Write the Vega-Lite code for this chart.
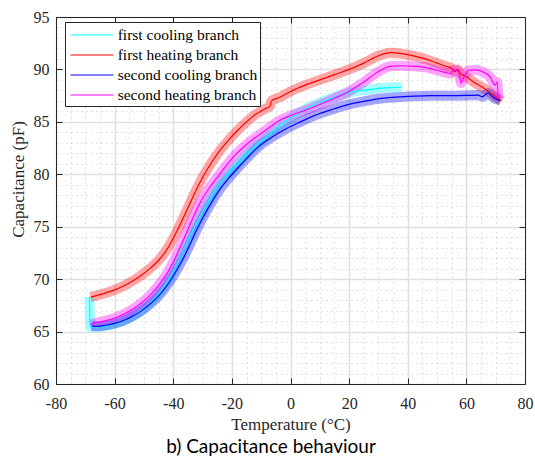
{
 "$schema": "https://vega.github.io/schema/vega-lite/v6.json",
 "width": 469, "height": 367,
 "autosize": {"type": "none"},
 "padding": {"left": 56, "top": 17, "right": 10, "bottom": 78},
 "title": {"text": "b) Capacitance behaviour", "orient": "bottom", "anchor": "middle", "frame": "bounds", "font": "Lato", "fontSize": 19, "fontWeight": "normal", "color": "#000000", "offset": 6},
 "datasets": {
  "d": [
   {"b":"first cooling branch","i":1,"T":37.9,"C":88.3},{"b":"first cooling branch","i":2,"T":34,"C":88.27},{"b":"first cooling branch","i":3,"T":30,"C":88.2},{"b":"first cooling branch","i":4,"T":26,"C":88.05},{"b":"first cooling branch","i":5,"T":22,"C":87.9},{"b":"first cooling branch","i":6,"T":18,"C":87.6},{"b":"first cooling branch","i":7,"T":14,"C":87.25},{"b":"first cooling branch","i":8,"T":10,"C":86.85},{"b":"first cooling branch","i":9,"T":6,"C":86.35},{"b":"first cooling branch","i":10,"T":2,"C":85.7},{"b":"first cooling branch","i":11,"T":-2,"C":85.0},{"b":"first cooling branch","i":12,"T":-5,"C":84.35},{"b":"first cooling branch","i":13,"T":-8,"C":83.65},{"b":"first cooling branch","i":14,"T":-12,"C":82.7},{"b":"first cooling branch","i":15,"T":-16,"C":81.6},{"b":"first cooling branch","i":16,"T":-19,"C":80.7},{"b":"first cooling branch","i":17,"T":-22,"C":79.85},{"b":"first cooling branch","i":18,"T":-25,"C":78.8},{"b":"first cooling branch","i":19,"T":-28,"C":77.4},{"b":"first cooling branch","i":20,"T":-31,"C":75.9},{"b":"first cooling branch","i":21,"T":-33.5,"C":74.6},{"b":"first cooling branch","i":22,"T":-36,"C":73.1},{"b":"first cooling branch","i":23,"T":-38,"C":71.9},{"b":"first cooling branch","i":24,"T":-40,"C":70.8},{"b":"first cooling branch","i":25,"T":-42,"C":69.8},{"b":"first cooling branch","i":26,"T":-45,"C":68.6},{"b":"first cooling branch","i":27,"T":-48,"C":67.7},{"b":"first cooling branch","i":28,"T":-51,"C":67.0},{"b":"first cooling branch","i":29,"T":-54,"C":66.45},{"b":"first cooling branch","i":30,"T":-57,"C":66.05},{"b":"first cooling branch","i":31,"T":-60,"C":65.75},{"b":"first cooling branch","i":32,"T":-63,"C":65.55},{"b":"first cooling branch","i":33,"T":-66,"C":65.45},{"b":"first cooling branch","i":34,"T":-68.3,"C":65.45},{"b":"first cooling branch","i":35,"T":-68.6,"C":68.3},
   {"b":"first heating branch","i":1,"T":-68.2,"C":68.3},{"b":"first heating branch","i":2,"T":-66,"C":68.45},{"b":"first heating branch","i":3,"T":-64,"C":68.6},{"b":"first heating branch","i":4,"T":-62,"C":68.78},{"b":"first heating branch","i":5,"T":-60,"C":68.98},{"b":"first heating branch","i":6,"T":-57,"C":69.35},{"b":"first heating branch","i":7,"T":-54,"C":69.8},{"b":"first heating branch","i":8,"T":-51,"C":70.35},{"b":"first heating branch","i":9,"T":-48,"C":71.0},{"b":"first heating branch","i":10,"T":-45,"C":71.8},{"b":"first heating branch","i":11,"T":-42,"C":72.9},{"b":"first heating branch","i":12,"T":-40,"C":73.9},{"b":"first heating branch","i":13,"T":-38,"C":75.0},{"b":"first heating branch","i":14,"T":-35,"C":76.8},{"b":"first heating branch","i":15,"T":-32,"C":78.6},{"b":"first heating branch","i":16,"T":-30,"C":79.7},{"b":"first heating branch","i":17,"T":-27,"C":81.1},{"b":"first heating branch","i":18,"T":-24,"C":82.3},{"b":"first heating branch","i":19,"T":-21,"C":83.3},{"b":"first heating branch","i":20,"T":-18,"C":84.2},{"b":"first heating branch","i":21,"T":-15,"C":85.0},{"b":"first heating branch","i":22,"T":-12,"C":85.7},{"b":"first heating branch","i":23,"T":-9,"C":86.2},{"b":"first heating branch","i":24,"T":-7,"C":86.5},{"b":"first heating branch","i":25,"T":-6.5,"C":87.0},{"b":"first heating branch","i":26,"T":-4,"C":87.3},{"b":"first heating branch","i":27,"T":0,"C":87.9},{"b":"first heating branch","i":28,"T":5,"C":88.5},{"b":"first heating branch","i":29,"T":10,"C":89.0},{"b":"first heating branch","i":30,"T":15,"C":89.5},{"b":"first heating branch","i":31,"T":20,"C":90.0},{"b":"first heating branch","i":32,"T":25,"C":90.6},{"b":"first heating branch","i":33,"T":30,"C":91.3},{"b":"first heating branch","i":34,"T":34,"C":91.6},{"b":"first heating branch","i":35,"T":38,"C":91.5},{"b":"first heating branch","i":36,"T":42,"C":91.3},{"b":"first heating branch","i":37,"T":46,"C":91.0},{"b":"first heating branch","i":38,"T":50,"C":90.6},{"b":"first heating branch","i":39,"T":53,"C":90.3},{"b":"first heating branch","i":40,"T":55,"C":90.1},{"b":"first heating branch","i":41,"T":56,"C":89.8},{"b":"first heating branch","i":42,"T":57,"C":90.0},{"b":"first heating branch","i":43,"T":58,"C":89.6},{"b":"first heating branch","i":44,"T":60,"C":89.3},{"b":"first heating branch","i":45,"T":63,"C":88.7},{"b":"first heating branch","i":46,"T":66,"C":88.2},{"b":"first heating branch","i":47,"T":68,"C":87.8},{"b":"first heating branch","i":48,"T":70,"C":87.4},{"b":"first heating branch","i":49,"T":72,"C":87.0},
   {"b":"second cooling branch","i":1,"T":-67.8,"C":65.55},{"b":"second cooling branch","i":2,"T":-66,"C":65.5},{"b":"second cooling branch","i":3,"T":-63,"C":65.6},{"b":"second cooling branch","i":4,"T":-60,"C":65.78},{"b":"second cooling branch","i":5,"T":-57,"C":66.05},{"b":"second cooling branch","i":6,"T":-54,"C":66.45},{"b":"second cooling branch","i":7,"T":-51,"C":66.95},{"b":"second cooling branch","i":8,"T":-48,"C":67.6},{"b":"second cooling branch","i":9,"T":-45,"C":68.4},{"b":"second cooling branch","i":10,"T":-42,"C":69.45},{"b":"second cooling branch","i":11,"T":-40,"C":70.3},{"b":"second cooling branch","i":12,"T":-38,"C":71.25},{"b":"second cooling branch","i":13,"T":-36,"C":72.3},{"b":"second cooling branch","i":14,"T":-34,"C":73.5},{"b":"second cooling branch","i":15,"T":-32,"C":74.7},{"b":"second cooling branch","i":16,"T":-30,"C":75.8},{"b":"second cooling branch","i":17,"T":-27,"C":77.3},{"b":"second cooling branch","i":18,"T":-24,"C":78.6},{"b":"second cooling branch","i":19,"T":-21,"C":79.65},{"b":"second cooling branch","i":20,"T":-18,"C":80.6},{"b":"second cooling branch","i":21,"T":-15,"C":81.5},{"b":"second cooling branch","i":22,"T":-12,"C":82.35},{"b":"second cooling branch","i":23,"T":-9,"C":83.05},{"b":"second cooling branch","i":24,"T":-6,"C":83.6},{"b":"second cooling branch","i":25,"T":-3,"C":84.1},{"b":"second cooling branch","i":26,"T":0,"C":84.55},{"b":"second cooling branch","i":27,"T":3,"C":84.95},{"b":"second cooling branch","i":28,"T":6.5,"C":85.4},{"b":"second cooling branch","i":29,"T":10,"C":85.8},{"b":"second cooling branch","i":30,"T":15,"C":86.25},{"b":"second cooling branch","i":31,"T":19,"C":86.6},{"b":"second cooling branch","i":32,"T":25,"C":86.95},{"b":"second cooling branch","i":33,"T":30,"C":87.2},{"b":"second cooling branch","i":34,"T":36,"C":87.35},{"b":"second cooling branch","i":35,"T":42,"C":87.45},{"b":"second cooling branch","i":36,"T":48,"C":87.5},{"b":"second cooling branch","i":37,"T":54,"C":87.5},{"b":"second cooling branch","i":38,"T":60,"C":87.52},{"b":"second cooling branch","i":39,"T":64,"C":87.55},{"b":"second cooling branch","i":40,"T":65.5,"C":87.4},{"b":"second cooling branch","i":41,"T":66.5,"C":87.6},{"b":"second cooling branch","i":42,"T":67.5,"C":87.75},{"b":"second cooling branch","i":43,"T":68.5,"C":87.5},{"b":"second cooling branch","i":44,"T":69.8,"C":87.2},{"b":"second cooling branch","i":45,"T":71.5,"C":87.05},
   {"b":"second heating branch","i":1,"T":-68.4,"C":65.7},{"b":"second heating branch","i":2,"T":-66,"C":65.85},{"b":"second heating branch","i":3,"T":-63,"C":66.05},{"b":"second heating branch","i":4,"T":-60,"C":66.3},{"b":"second heating branch","i":5,"T":-57,"C":66.65},{"b":"second heating branch","i":6,"T":-54,"C":67.1},{"b":"second heating branch","i":7,"T":-51,"C":67.7},{"b":"second heating branch","i":8,"T":-48,"C":68.45},{"b":"second heating branch","i":9,"T":-45,"C":69.4},{"b":"second heating branch","i":10,"T":-42,"C":70.6},{"b":"second heating branch","i":11,"T":-40,"C":71.6},{"b":"second heating branch","i":12,"T":-38,"C":72.8},{"b":"second heating branch","i":13,"T":-36,"C":74.1},{"b":"second heating branch","i":14,"T":-34,"C":75.4},{"b":"second heating branch","i":15,"T":-31,"C":77.2},{"b":"second heating branch","i":16,"T":-28,"C":78.6},{"b":"second heating branch","i":17,"T":-25,"C":79.7},{"b":"second heating branch","i":18,"T":-22,"C":80.8},{"b":"second heating branch","i":19,"T":-19,"C":81.8},{"b":"second heating branch","i":20,"T":-16,"C":82.6},{"b":"second heating branch","i":21,"T":-13,"C":83.3},{"b":"second heating branch","i":22,"T":-10,"C":83.9},{"b":"second heating branch","i":23,"T":-7,"C":84.5},{"b":"second heating branch","i":24,"T":-4,"C":85.1},{"b":"second heating branch","i":25,"T":0,"C":85.6},{"b":"second heating branch","i":26,"T":5,"C":86.1},{"b":"second heating branch","i":27,"T":10,"C":86.65},{"b":"second heating branch","i":28,"T":15,"C":87.25},{"b":"second heating branch","i":29,"T":20,"C":87.9},{"b":"second heating branch","i":30,"T":25,"C":88.8},{"b":"second heating branch","i":31,"T":30,"C":89.8},{"b":"second heating branch","i":32,"T":34,"C":90.3},{"b":"second heating branch","i":33,"T":38,"C":90.35},{"b":"second heating branch","i":34,"T":42,"C":90.3},{"b":"second heating branch","i":35,"T":46,"C":90.2},{"b":"second heating branch","i":36,"T":50,"C":89.9},{"b":"second heating branch","i":37,"T":53,"C":89.7},{"b":"second heating branch","i":38,"T":54.5,"C":89.6},{"b":"second heating branch","i":39,"T":55.5,"C":89.95},{"b":"second heating branch","i":40,"T":57.3,"C":89.8},{"b":"second heating branch","i":41,"T":58.2,"C":88.7},{"b":"second heating branch","i":42,"T":59,"C":89.2},{"b":"second heating branch","i":43,"T":60.7,"C":89.9},{"b":"second heating branch","i":44,"T":63,"C":89.95},{"b":"second heating branch","i":45,"T":66.4,"C":89.65},{"b":"second heating branch","i":46,"T":68.1,"C":89.3},{"b":"second heating branch","i":47,"T":69.8,"C":88.5},{"b":"second heating branch","i":48,"T":70.5,"C":88.8},{"b":"second heating branch","i":49,"T":70.9,"C":87.2}
  ]
 },
 "data": {"name": "d"},
 "layer": [
  {
   "mark": {"type": "line", "strokeWidth": 10, "opacity": 0.35, "strokeCap": "butt", "strokeJoin": "round", "interpolate": "monotone"},
   "encoding": {
    "x": {"field": "T", "type": "quantitative", "scale": {"domain": [-80, 80], "nice": false},
     "axis": {"orient": "bottom",
      "values": [-80,-75,-70,-65,-60,-55,-50,-45,-40,-35,-30,-25,-20,-15,-10,-5,0,5,10,15,20,25,30,35,40,45,50,55,60,65,70,75,80],
      "labelExpr": "datum.value % 20 === 0 ? '' + datum.value : ''",
      "labelOverlap": false, "labelFlush": false,
      "labelFont": "Liberation Serif, serif", "labelFontSize": 16, "labelColor": "#262626", "labelPadding": 17,
      "tickSize": -6, "tickColor": "#262626",
      "tickOpacity": {"condition": {"test": "datum.value % 20 === 0", "value": 1}, "value": 0},
      "grid": true,
      "gridColor": {"condition": {"test": "datum.value % 20 === 0", "value": "#e0e0e0"}, "value": "#c4c4c4"},
      "gridDash": {"condition": {"test": "datum.value % 20 === 0", "value": []}, "value": [1, 4]},
      "gridWidth": {"condition": {"test": "datum.value % 20 === 0", "value": 1.5}, "value": 1},
      "domain": true, "domainColor": "#262626",
      "title": "Temperature (°C)", "titleFont": "Liberation Serif", "titleFontSize": 17, "titleFontWeight": "normal", "titleColor": "#262626",
      "titleY": 40, "titleBaseline": "middle"}},
    "y": {"field": "C", "type": "quantitative", "scale": {"domain": [60, 95], "nice": false, "zero": false},
     "axis": {"orient": "left",
      "values": [60,61,62,63,64,65,66,67,68,69,70,71,72,73,74,75,76,77,78,79,80,81,82,83,84,85,86,87,88,89,90,91,92,93,94,95],
      "labelExpr": "datum.value % 5 === 0 ? '' + datum.value : ''",
      "labelOverlap": false, "labelFlush": false,
      "labelFont": "Liberation Serif, serif", "labelFontSize": 16, "labelColor": "#262626", "labelPadding": 13,
      "tickSize": -6, "tickColor": "#262626",
      "tickOpacity": {"condition": {"test": "datum.value % 5 === 0", "value": 1}, "value": 0},
      "grid": true,
      "gridColor": {"condition": {"test": "datum.value % 5 === 0", "value": "#e0e0e0"}, "value": "#c4c4c4"},
      "gridDash": {"condition": {"test": "datum.value % 5 === 0", "value": []}, "value": [1, 4]},
      "gridWidth": {"condition": {"test": "datum.value % 5 === 0", "value": 1.5}, "value": 1},
      "domain": true, "domainColor": "#262626",
      "title": "Capacitance (pF)", "titleFont": "Liberation Serif", "titleFontSize": 17, "titleFontWeight": "normal", "titleColor": "#262626",
      "titleX": -29, "titleY": 162, "titleBaseline": "bottom"}},
    "color": {"field": "b", "type": "nominal",
     "scale": {"domain": ["first cooling branch", "first heating branch", "second cooling branch", "second heating branch"], "range": ["#00ffff", "#ff0000", "#0000ff", "#ff00ff"]},
     "legend": {"orient": "none", "legendX": 9, "legendY": 5, "title": null,
      "symbolType": "M-0.714,0L3.38,0", "symbolSize": 441, "symbolStrokeWidth": 1, "symbolOpacity": 1, "symbolFillColor": "transparent",
      "labelFont": "Liberation Serif", "labelFontSize": 15.5, "labelColor": "#000000", "labelOffset": 28.7,
      "fillColor": "#ffffff", "strokeColor": "#262626", "padding": 2, "rowPadding": -2}},
    "order": {"field": "i", "type": "quantitative"}
   }
  },
  {
   "mark": {"type": "line", "strokeWidth": 1.2, "interpolate": "monotone"},
   "encoding": {
    "x": {"field": "T", "type": "quantitative", "scale": {"domain": [-80, 80], "nice": false},
     "axis": {"orient": "top", "values": [-60,-40,-20,0,20,40,60], "labels": false, "tickSize": -6, "tickColor": "#262626", "grid": false, "domain": true, "domainColor": "#262626", "title": null}},
    "y": {"field": "C", "type": "quantitative", "scale": {"domain": [60, 95], "nice": false, "zero": false},
     "axis": {"orient": "right", "values": [65,70,75,80,85,90], "labels": false, "tickSize": -6, "tickColor": "#262626", "grid": false, "domain": true, "domainColor": "#262626", "title": null}},
    "color": {"field": "b", "type": "nominal",
     "scale": {"domain": ["first cooling branch", "first heating branch", "second cooling branch", "second heating branch"], "range": ["#00ffff", "#ff0000", "#0000ff", "#ff00ff"]},
     "legend": {"orient": "none", "legendX": 9, "legendY": 5, "title": null,
      "symbolType": "M-0.714,0L3.38,0", "symbolSize": 441, "symbolStrokeWidth": 1, "symbolOpacity": 1, "symbolFillColor": "transparent",
      "labelFont": "Liberation Serif", "labelFontSize": 15.5, "labelColor": "#000000", "labelOffset": 28.7,
      "fillColor": "#ffffff", "strokeColor": "#262626", "padding": 2, "rowPadding": -2}},
    "order": {"field": "i", "type": "quantitative"}
   }
  }
 ],
 "resolve": {"axis": {"x": "independent", "y": "independent"}},
 "config": {"view": {"stroke": "#262626", "strokeWidth": 1}, "font": "Liberation Serif",
  "axis": {"labelFont": "Liberation Serif"}, "legend": {"labelFont": "Liberation Serif"},
  "style": {"guide-label": {"font": "Liberation Serif"}}}
}
